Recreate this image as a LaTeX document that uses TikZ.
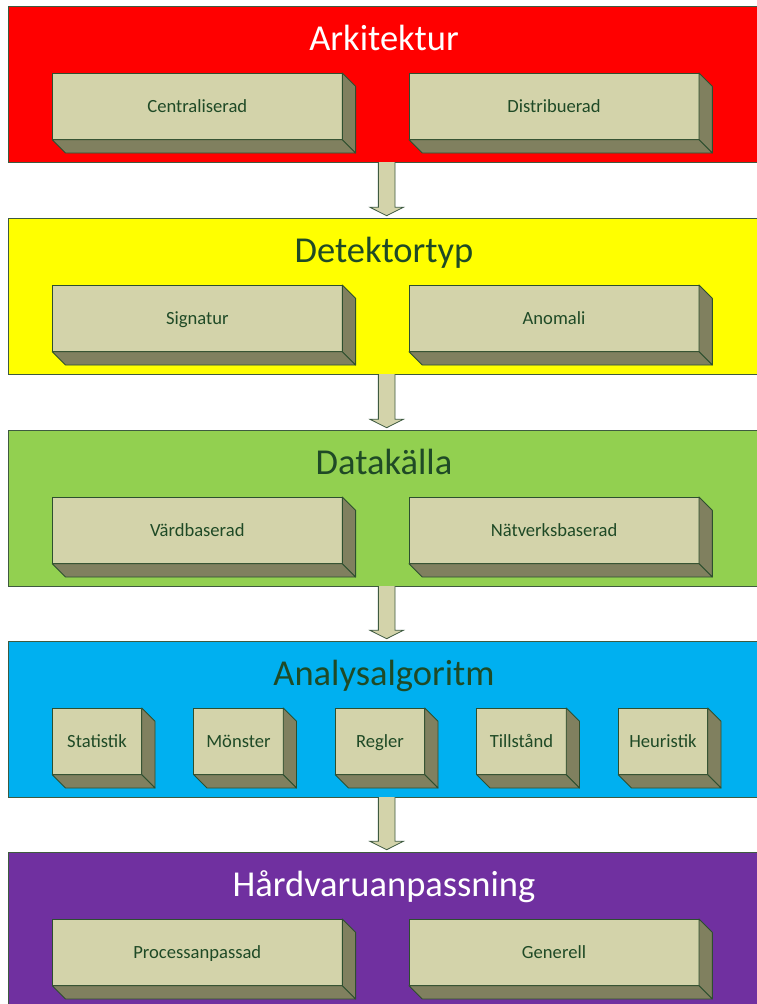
\documentclass[tikz,border=0pt]{standalone}
\usepackage{fontspec}
\setmainfont{Carlito}
\usetikzlibrary{calc}
\definecolor{boxfront}{HTML}{D3D3AA}
\definecolor{boxside}{HTML}{80805F}
\definecolor{boxline}{HTML}{2D4F2F}
\definecolor{bandline}{HTML}{3E5A40}
\definecolor{txtgreen}{HTML}{1F4A26}
\definecolor{cRed}{HTML}{FF0000}
\definecolor{cYellow}{HTML}{FFFF00}
\definecolor{cGreen}{HTML}{92D050}
\definecolor{cBlue}{HTML}{00B0F0}
\definecolor{cPurple}{HTML}{7030A0}
\newcommand\cubefaces[1]{%
  \draw[sideface] (#1.north east) -- ++(13.3,13.3) -- ($(#1.south east)+(13.3,13.3)$) -- (#1.south east) -- cycle;
  \draw[sideface] (#1.south west) -- (#1.south east) -- ++(13.3,13.3) -- ($(#1.south west)+(13.3,13.3)$) -- cycle;
}
\newcommand\bandarrow[2]{%
  \path ($(#1.south)+(-1.3,0)$) coordinate (#1s) ($(#2.north)+(-1.3,-2.3)$) coordinate (#1e);
  \draw[blockarrow] let \p1=(#1s), \p2=(#1e) in
    (\x1-8.35pt,\y1) -- (\x1-8.35pt,\y2+8.4pt) -- (\x1-16.7pt,\y2+8.4pt) -- (\x1,\y2)
    -- (\x1+16.7pt,\y2+8.4pt) -- (\x1+8.35pt,\y2+8.4pt) -- (\x1+8.35pt,\y1);
}
\begin{document}
\begin{tikzpicture}[x=1pt,y=-1pt,
  band/.style={draw=bandline, line width=0.8pt, minimum width=760pt, minimum height=156pt, inner sep=0pt, outer sep=0pt},
  titlew/.style={text=white, font=\fontsize{36.5}{40}\selectfont, inner sep=0pt, anchor=base},
  titleg/.style={text=txtgreen, font=\fontsize{36.5}{40}\selectfont, inner sep=0pt, anchor=base},
  front/.style={draw=boxline, fill=boxfront, line width=0.9pt, inner sep=0pt, outer sep=0pt,
    anchor=north west, minimum height=66.7pt, text=txtgreen,
    font=\fontsize{18.6}{20}\selectfont, text height=11.7pt, text depth=0pt},
  widebox/.style={front, minimum width=290pt},
  smallbox/.style={front, minimum width=89.4pt},
  sideface/.style={draw=boxline, fill=boxside, line width=0.9pt, line join=round},
  blockarrow/.style={draw=bandline, fill=boxfront, line width=0.8pt, line join=miter}
]
\useasboundingbox (0,0) rectangle (757,1004);
\fill[white] (0,0) rectangle (757,1004);

% bands
\node[band, fill=cRed]    (b1) at (388,84) {};
\node[band, fill=cYellow] (b2) at (388,296) {};
\node[band, fill=cGreen]  (b3) at (388,508) {};
\node[band, fill=cBlue]   (b4) at (388,719) {};
\node[band, fill=cPurple] (b5) at (388,930) {};

% titles
\node[titlew] (t1) at ($(b1.north)+(-4,44.5)$) {Arkitektur};
\node[titleg] (t2) at ($(b2.north)+(-4,44.5)$) {Detektortyp};
\node[titleg] (t3) at ($(b3.north)+(-4,44.5)$) {Datakälla};
\node[titleg] (t4) at ($(b4.north)+(-4,44.5)$) {Analysalgoritm};
\node[titlew] (t5) at ($(b5.north)+(-4,44.5)$) {Hårdvaruanpassning};

% boxes
\node[widebox] (c1) at ($(b1.north west)+(44.3,67)$) {Centraliserad};
\node[widebox] (d1) at ($(b1.north west)+(401,67)$) {Distribuerad};
\node[widebox] (c2) at ($(b2.north west)+(44.3,67)$) {Signatur};
\node[widebox] (d2) at ($(b2.north west)+(401,67)$) {Anomali};
\node[widebox] (c3) at ($(b3.north west)+(44.3,67)$) {Värdbaserad};
\node[widebox] (d3) at ($(b3.north west)+(401,67)$) {Nätverksbaserad};
\node[smallbox] (s1) at ($(b4.north west)+(44.3,67)$) {Statistik};
\node[smallbox] (s2) at ($(b4.north west)+(185.8,67)$) {Mönster};
\node[smallbox] (s3) at ($(b4.north west)+(327.3,67)$) {Regler};
\node[smallbox] (s4) at ($(b4.north west)+(468.8,67)$) {Tillstånd};
\node[smallbox] (s5) at ($(b4.north west)+(610.3,67)$) {Heuristik};
\node[widebox] (c5) at ($(b5.north west)+(44.3,67)$) {Processanpassad};
\node[widebox] (d5) at ($(b5.north west)+(401,67)$) {Generell};

\foreach \n in {c1,d1,c2,d2,c3,d3,s1,s2,s3,s4,s5,c5,d5}{\cubefaces{\n}}

% arrows
\bandarrow{b1}{b2}
\bandarrow{b2}{b3}
\bandarrow{b3}{b4}
\bandarrow{b4}{b5}
\end{tikzpicture}
\end{document}
